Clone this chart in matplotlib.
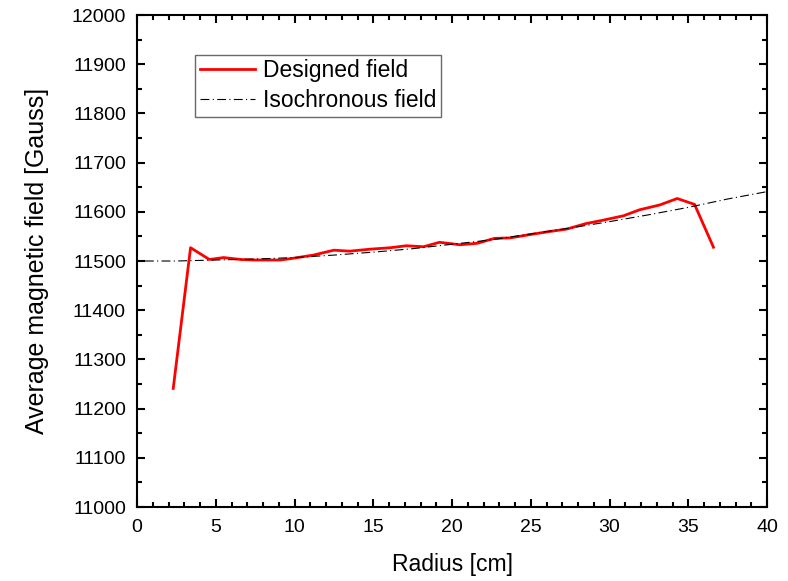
import matplotlib
matplotlib.use("Agg")
import matplotlib.pyplot as plt
from matplotlib.ticker import MultipleLocator

plt.rcParams['font.family'] = ['Liberation Sans', 'DejaVu Sans']

radius_designed = [2.3, 3.4, 4.6, 5.5, 6.6, 7.5, 8.5, 9.1, 9.8, 11.2, 12.5, 13.5, 14.8,
                   16.1, 17.1, 18.2, 19.2, 20.5, 21.6, 22.7, 23.7, 25.2, 26.2, 27.3,
                   28.5, 29.6, 30.9, 31.9, 33.2, 34.3, 35.4, 36.6]
field_designed = [11241, 11527, 11503, 11507, 11503, 11502, 11502, 11502, 11505, 11512,
                  11522, 11520, 11524, 11527, 11531, 11529, 11538, 11533, 11536, 11546,
                  11547, 11555, 11560, 11565, 11576, 11583, 11592, 11604, 11614, 11627,
                  11615, 11528]

radius_iso = [0.5, 2.5, 5, 7.5, 10, 12.5, 15, 17.5, 20, 22.5, 25, 27.5, 30, 32.5, 35, 37.5, 40]
field_iso = [11500, 11500, 11502, 11504, 11507, 11512, 11518, 11525, 11534, 11543,
             11555, 11567, 11580, 11594, 11609, 11626, 11641]

fig = plt.figure(figsize=(7.88, 5.81), dpi=100)
ax = fig.add_axes([137/788, 1-507/581, 630/788, 492/581])

ax.plot(radius_designed, field_designed, color='#ff0000', lw=2.0, label='Designed field')
ax.plot(radius_iso, field_iso, color='black', lw=0.8, dashes=(8, 3, 1, 3), label='Isochronous field')

ax.set_xlim(0, 40)
ax.set_ylim(11000, 12000)
ax.xaxis.set_major_locator(MultipleLocator(5))
ax.xaxis.set_minor_locator(MultipleLocator(1))
ax.yaxis.set_major_locator(MultipleLocator(100))
ax.yaxis.set_minor_locator(MultipleLocator(50))
ax.tick_params(which='both', direction='in', top=True, right=True, width=1.5, labelsize=14)
ax.tick_params(which='major', length=6)
ax.tick_params(which='minor', length=3.5)
ax.tick_params(axis='x', which='major', pad=9)
ax.tick_params(axis='y', which='major', pad=8)
for s in ax.spines.values():
    s.set_linewidth(1.5)

ax.set_xlabel('Radius [cm]', fontsize=16.5, labelpad=12)
ax.set_ylabel('Average magnetic field [Gauss]', fontsize=18, labelpad=16)

leg = ax.legend(loc='upper left', bbox_to_anchor=(0.092, 0.919), borderaxespad=0,
                fontsize=16.5, frameon=True, fancybox=False, handlelength=2.4,
                handletextpad=0.35, borderpad=0.2, labelspacing=0.3)
leg.get_frame().set_edgecolor('#444444')
leg.get_frame().set_linewidth(1.0)

fig.savefig('out.png', dpi=100)
